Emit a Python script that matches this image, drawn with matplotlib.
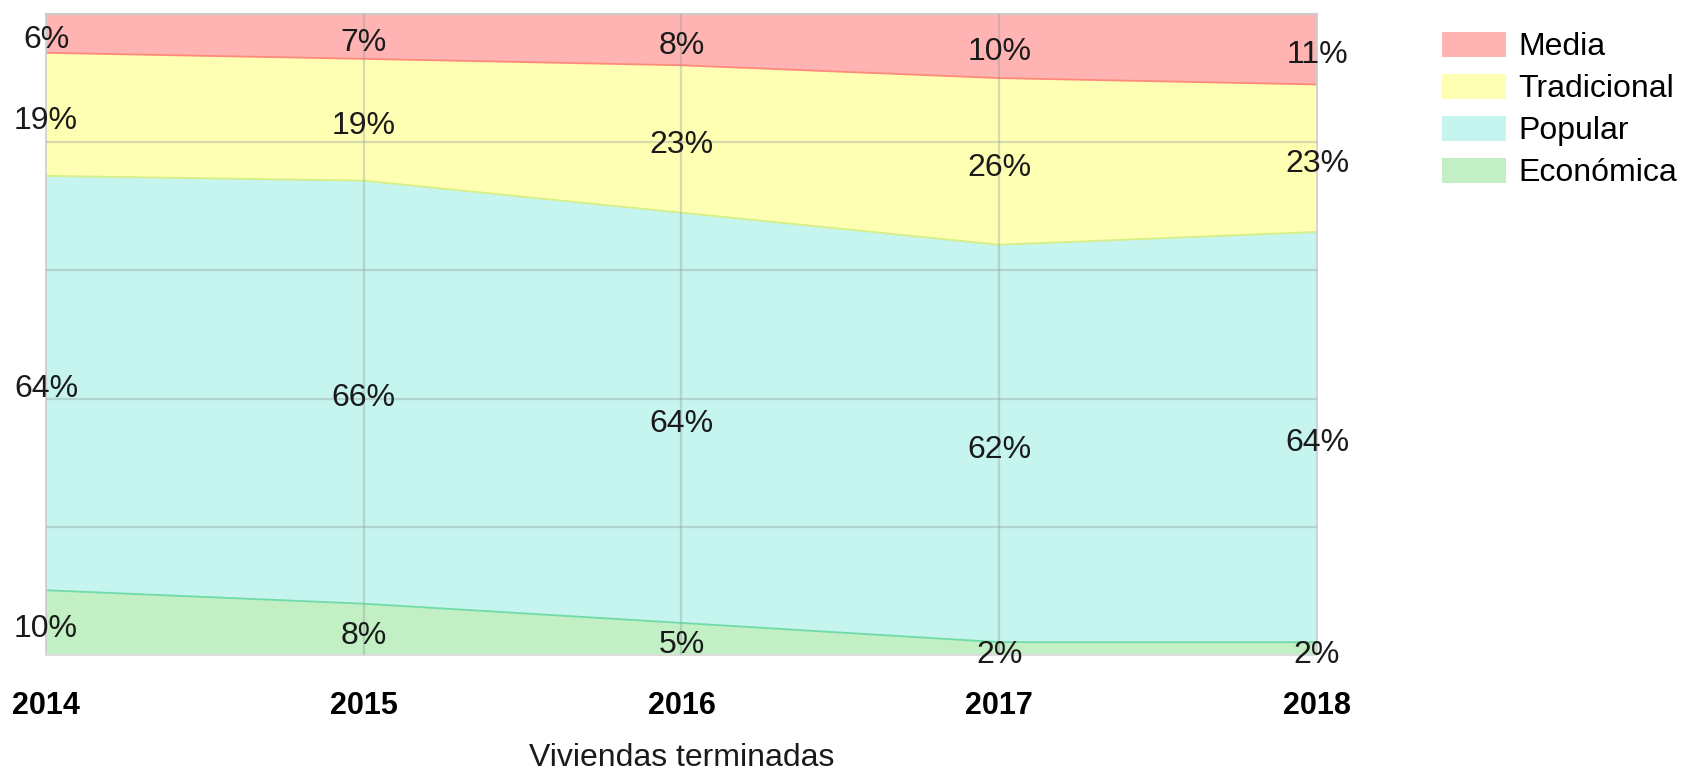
import numpy as np
import matplotlib.pyplot as plt
from matplotlib.patches import Patch

# ---------- DATA ----------
years = [2014, 2015, 2016, 2017, 2018]
economica = [10, 8, 5, 2, 2]
popular = [64, 66, 64, 62, 64]
tradicional = [19, 19, 23, 26, 23]
media = [6, 7, 8, 10, 11]

names = ["Económica", "Popular", "Tradicional", "Media"]
fills = ["#c2efc4", "#c6f4ee", "#ffffb3", "#ffb3b3"]
edges = ["#6fdba8", "#d6ef86", "#ff8a7a", "#ff8a8a"]

plt.rcParams['font.family'] = ['Liberation Sans', 'DejaVu Sans']

# ---------- NORMALIZE TO 100% ----------
series = np.array([economica, popular, tradicional, media], dtype=float)
shares = series / series.sum(axis=0)
tops = np.cumsum(shares, axis=0)
bottoms = tops - shares

fig = plt.figure(figsize=(16.85, 7.73), dpi=100)
ax = fig.add_axes([0.0273, 0.1527, 0.7543, 0.8292])

ax.stackplot(years, shares, colors=fills, linewidth=0)
for i in range(len(names)):
    ax.plot(years, tops[i], color=edges[i], lw=1.3)

# gridlines on top of the areas
for g in [0.2, 0.4, 0.6, 0.8]:
    ax.axhline(g, color='#8a9a98', alpha=0.35, lw=1.6, zorder=3)
for x in years[1:-1]:
    ax.axvline(x, color='#8a9a98', alpha=0.35, lw=1.6, zorder=3)

# value labels centered in each band (slightly below center, like the original)
for i in range(len(names)):
    for j, x in enumerate(years):
        mid = (tops[i][j] + bottoms[i][j]) / 2
        ax.annotate(f"{int(series[i][j])}%", (x, mid), xytext=(0, -4.5),
                    textcoords='offset points', ha='center', va='center',
                    fontsize=23, color='#1a1a1a', zorder=4)

ax.set_xlim(years[0], years[-1])
ax.set_ylim(0, 1)
ax.set_yticks([])
ax.set_xticks(years)
ax.set_xticklabels([str(y) for y in years], fontsize=22, fontweight='bold')
ax.tick_params(axis='x', length=0, pad=26)
ax.set_xlabel("Viviendas terminadas", fontsize=23, labelpad=16, color='#1a1a1a')

for side in ['left', 'right']:
    ax.spines[side].set_color('#cccccc')
    ax.spines[side].set_linewidth(1.2)
ax.spines['top'].set_color('#cccccc')
ax.spines['bottom'].set_color('#dddddd')
ax.spines['top'].set_linewidth(1.5)
ax.spines['bottom'].set_linewidth(1.5)

# legend (top series first)
handles = [Patch(facecolor=fills[i], edgecolor='none') for i in range(3, -1, -1)]
labels = [names[i] for i in range(3, -1, -1)]
fig.legend(handles, labels, loc='upper left', bbox_to_anchor=(0.8558, 0.959),
           frameon=False, fontsize=23, handlelength=2.0, handleheight=0.85,
           handletextpad=0.4, labelspacing=0.35, borderpad=0, borderaxespad=0)

fig.savefig("out.png", dpi=100)
